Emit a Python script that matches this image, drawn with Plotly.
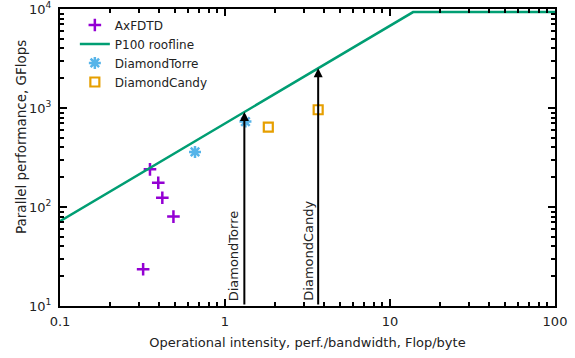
import numpy as np
import plotly.graph_objects as go

# ---- data ----
axfdtd_x = [0.319, 0.351, 0.394, 0.417, 0.487]
axfdtd_y = [23.5, 240, 176, 124, 80]

roof_x = [0.1, 13.8, 100]
roof_y = [72, 9300, 9300]

torre_x = [0.658, 1.33]
torre_y = [360, 730]

candy_x = [1.83, 3.67]
candy_y = [640, 960]

arrow_labels = ["DiamondTorre", "DiamondCandy"]
arrow_x = [1.31, 3.67]

x_tickvals = [0.1, 1, 10, 100]
x_ticktext = ["0.1", "1", "10", "100"]
y_tickvals = [10, 100, 1000, 10000]
y_ticktext = ["10<sup>1</sup>", "10<sup>2</sup>", "10<sup>3</sup>", "10<sup>4</sup>"]

FONT = "DejaVu Sans"
TXT = "#222222"


def roof_at(x):
    return 10 ** np.interp(np.log10(x), np.log10(roof_x), np.log10(roof_y))


fig = go.Figure()
fig.add_trace(go.Scatter(x=axfdtd_x, y=axfdtd_y, mode="markers", name="AxFDTD",
                         marker=dict(symbol="cross-thin", size=9, color="#9400d3",
                                     line=dict(color="#9400d3", width=2.5))))
fig.add_trace(go.Scatter(x=roof_x, y=roof_y, mode="lines", name="P100 roofline",
                         line=dict(color="#009e73", width=2.5)))
fig.add_trace(go.Scatter(x=torre_x, y=torre_y, mode="markers", name="DiamondTorre",
                         marker=dict(symbol="asterisk-open", size=10, color="#56b4e9",
                                     line=dict(color="#56b4e9", width=2.5))))
fig.add_trace(go.Scatter(x=candy_x, y=candy_y, mode="markers", name="DiamondCandy",
                         marker=dict(symbol="square-open", size=9, color="#e69f00",
                                     line=dict(color="#e69f00", width=2.2))))

for lab, xv in zip(arrow_labels, arrow_x):
    tip = roof_at(xv)
    fig.add_annotation(x=np.log10(xv), y=np.log10(tip), ax=np.log10(xv), ay=1,
                       xref="x", yref="y", axref="x", ayref="y",
                       showarrow=True, arrowhead=2, arrowsize=0.9, arrowwidth=2,
                       arrowcolor="black", text="")
    fig.add_annotation(x=np.log10(xv), y=1, xref="x", yref="y", text=lab,
                       textangle=-90, showarrow=False, xanchor="right", yanchor="bottom",
                       xshift=-1, yshift=3, font=dict(family=FONT, size=13, color=TXT))

# y-axis title (placed like the reference, slightly above centre)
fig.add_annotation(x=0, y=1, xref="paper", yref="paper", text="Parallel performance, GFlops",
                   textangle=-90, showarrow=False, xanchor="center", yanchor="middle",
                   xshift=-39, yshift=-128, font=dict(family=FONT, size=13.5, color=TXT))

minor_x = [m * 10.0 ** e for e in (-1, 0, 1) for m in range(2, 10)]
minor_y = [m * 10.0 ** e for e in (1, 2, 3) for m in range(2, 10)]

fig.update_xaxes(type="log", range=[-1, 2], tickvals=x_tickvals, ticktext=x_ticktext,
                 showline=True, linecolor="black", linewidth=2, mirror="ticks",
                 ticks="inside", ticklen=7, tickwidth=1.5, tickcolor="black",
                 showgrid=False, zeroline=False, automargin=False, ticklabelstandoff=2,
                 minor=dict(tickvals=minor_x, ticks="inside", ticklen=4, tickwidth=1.5,
                            tickcolor="black", showgrid=False),
                 tickfont=dict(family=FONT, size=13, color=TXT),
                 title=dict(text="Operational intensity, perf./bandwidth, Flop/byte",
                            font=dict(family=FONT, size=13, color=TXT), standoff=10))
fig.update_yaxes(type="log", range=[1, 4], tickvals=y_tickvals, ticktext=y_ticktext,
                 showline=True, linecolor="black", linewidth=2, mirror="ticks",
                 ticks="inside", ticklen=7, tickwidth=1.5, tickcolor="black",
                 showgrid=False, zeroline=False, automargin=False, ticklabelstandoff=4,
                 minor=dict(tickvals=minor_y, ticks="inside", ticklen=4, tickwidth=1.5,
                            tickcolor="black", showgrid=False),
                 tickfont=dict(family=FONT, size=13, color=TXT))

fig.update_layout(width=575, height=358, margin=dict(l=60, r=20, t=9, b=52),
                  paper_bgcolor="white", plot_bgcolor="white",
                  font=dict(family=FONT, size=12, color=TXT),
                  legend=dict(x=0.03, y=0.995, xanchor="left", yanchor="top",
                              bgcolor="rgba(0,0,0,0)", tracegroupgap=0,
                              font=dict(family=FONT, size=12, color=TXT)))

fig.write_html("out.html")
